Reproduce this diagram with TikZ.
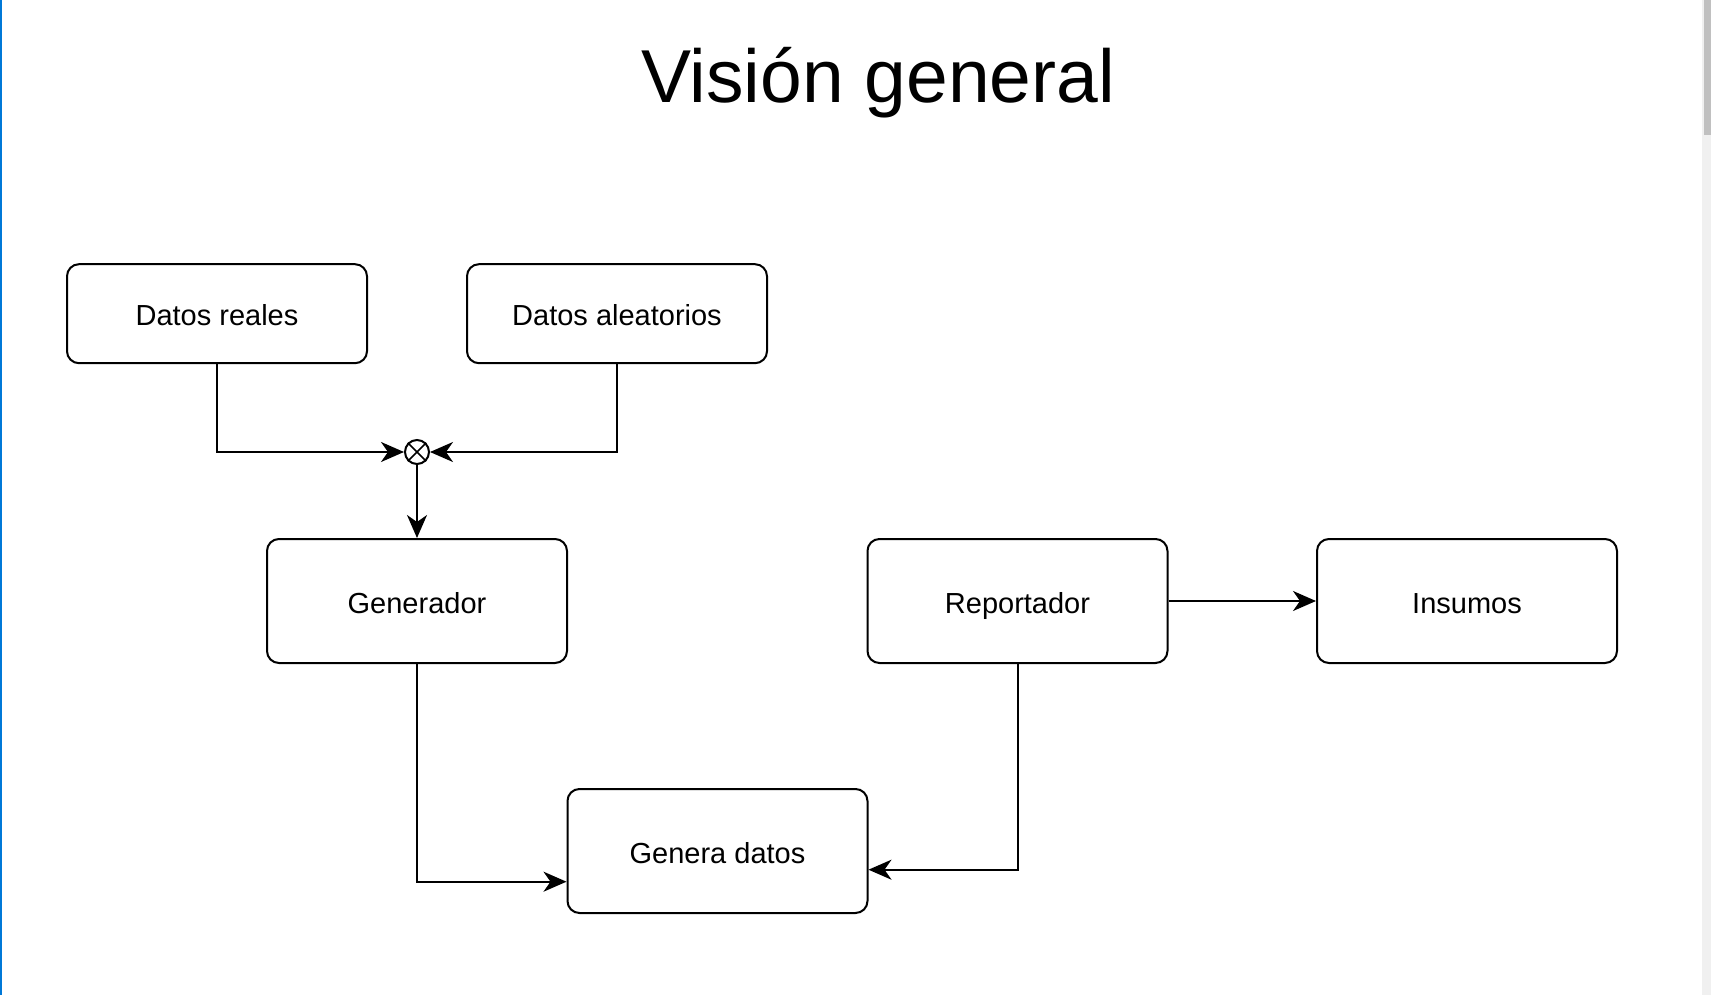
\documentclass[tikz,border=0pt]{standalone}
\usepackage{fontspec}
\setmainfont{Liberation Sans}
\usetikzlibrary{arrows.meta}
\definecolor{edgeblue}{RGB}{0,120,215}
\definecolor{sbtrack}{RGB}{240,240,240}
\definecolor{sbthumb}{RGB}{192,192,192}
\begin{document}
\begin{tikzpicture}[x=1pt,y=-1pt,
  box/.style={draw, line width=2pt, rounded corners=12pt, minimum width=300pt, minimum height=#1, font=\fontsize{29}{34}\selectfont, inner sep=0pt, text height=24pt, text depth=0pt},
  box/.default=99pt,
  conn/.style={line width=2pt, -{Stealth[length=23pt, width=20pt, inset=7pt]}}]
\useasboundingbox (0,0) rectangle (1711,995);
\fill[white] (0,0) rectangle (1711,995);
% screenshot edges
\fill[edgeblue] (0,0) rectangle (2,995);
\fill[sbtrack] (1702,0) rectangle (1711,995);
\fill[sbthumb] (1704,0) rectangle (1711,135);
% title
\node (title) at (878,83) {\fontsize{75}{90}\selectfont Visión general};
% boxes
\node[box] (dr) at (217,313.7) {Datos reales};
\node[box] (da) at (617,313.7) {Datos aleatorios};
\node[box=124pt] (gen) at (417,601) {Generador};
\node[box=124pt] (rep) at (1017.5,601) {Reportador};
\node[box=124pt] (ins) at (1467,601) {Insumos};
\node[box=124pt] (gd) at (717.5,851) {Genera datos};
% junction
\node[draw, circle, line width=2pt, minimum size=24pt, inner sep=0pt] (j) at (417,452) {};
\draw[line width=1.6pt] (j.45) -- (j.225) (j.135) -- (j.315);
\coordinate (drc) at (dr.south |- j);
\coordinate (dac) at (da.south |- j);
\draw[conn] (dr.south) -- (drc) -- (j.west);
\draw[conn] (da.south) -- (dac) -- (j.east);
\draw[conn] (j.south) -- (gen.north);
% lower connectors
\coordinate (gdl) at (gd.west |- 0,881.7);
\coordinate (gdr) at (gd.east |- 0,869.7);
\draw[conn] (gen.south) |- (gdl);
\draw[conn] (rep.south) |- (gdr);
\draw[conn] (rep.east) -- (ins.west);
\end{tikzpicture}
\end{document}
